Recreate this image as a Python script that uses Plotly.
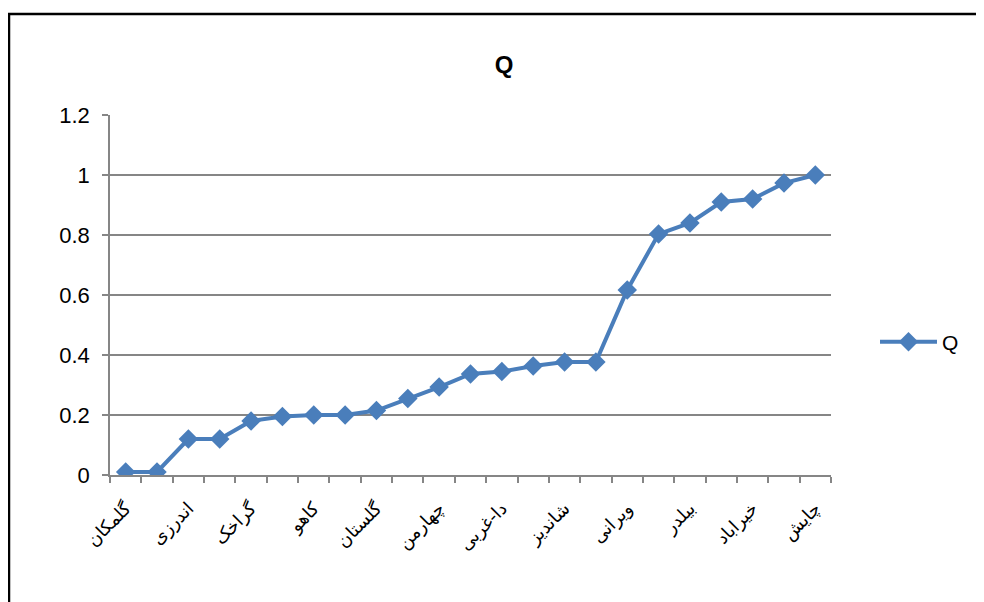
import plotly.graph_objects as go

# Data
q_values = [0.01, 0.01, 0.12, 0.12, 0.18, 0.195, 0.2, 0.2, 0.215, 0.255, 0.293, 0.337,
            0.345, 0.363, 0.377, 0.377, 0.617, 0.803, 0.84, 0.91, 0.92, 0.973, 1.0]
label_positions = [0, 2, 4, 6, 8, 10, 12, 14, 16, 18, 20, 22]
tick_labels = ["گلمکان", "اندرزی", "گراخک", "کاهو", "گلستان", "چهارمن",
               "دا-غربی", "شاندیز", "ویرانی", "بیلدر", "خیراباد", "چایش"]
y_ticks = [0, 0.2, 0.4, 0.6, 0.8, 1, 1.2]
y_tick_text = ["0", "0.2", "0.4", "0.6", "0.8", "1", "1.2"]

x_idx = list(range(len(q_values)))

# page has an 8px body margin; compensate so the plot lands where intended
OFF = 8
W, H = 984 - OFF, 602 - OFF
PL, PR, PT, PB = 110, 831, 115, 475  # plot box in page pixels
L, R, T, B = PL - OFF, 984 - PR, PT - OFF, 602 - PB
pw, ph = PR - PL, PB - PT

def px_x(p):
    return (p - PL) / pw

def px_y(p):
    return (PB - p) / ph

color = "#4A7EBB"
grid = "#868686"

fig = go.Figure()
fig.add_trace(go.Scatter(
    x=x_idx, y=q_values, mode="lines+markers", name="Q",
    line=dict(color=color, width=4),
    marker=dict(symbol="diamond", size=15, color=color),
))

fig.update_layout(
    width=W, height=H,
    margin=dict(l=L, r=R, t=T, b=B),
    paper_bgcolor="white", plot_bgcolor="white",
    title=dict(text="<b>Q</b>", font=dict(family="Liberation Sans", size=24, color="black"),
               x=px_x(504), xref="paper", xanchor="center",
               y=1 - (65 - OFF) / H, yref="container", yanchor="middle"),
    showlegend=True,
    legend=dict(x=px_x(875), y=px_y(342), xanchor="left", yanchor="middle",
                font=dict(family="Liberation Sans", size=21, color="black"),
                bgcolor="rgba(0,0,0,0)", itemwidth=57),
    font=dict(family="Liberation Sans", color="black"),
)

fig.update_xaxes(
    range=[-0.5, 22.5], tickmode="array", tickvals=label_positions, ticktext=tick_labels,
    tickangle=-45, ticks="", showgrid=False, zeroline=False,
    showline=True, linecolor=grid, linewidth=1.5,
    ticklabelstandoff=14,
    tickfont=dict(family="DejaVu Sans", size=18, color="black"),
    minor=dict(tickmode="linear", tick0=-0.5, dtick=1, ticks="outside",
               ticklen=6, tickcolor=grid, tickwidth=1.5, showgrid=False),
)
fig.update_yaxes(
    range=[0, 1.2], tickmode="array", tickvals=y_ticks, ticktext=y_tick_text,
    ticks="outside", ticklen=6, tickcolor=grid, tickwidth=1.5,
    showgrid=True, gridcolor=grid, gridwidth=1.5, zeroline=False,
    showline=True, linecolor=grid, linewidth=1.5,
    ticklabelstandoff=8,
    tickfont=dict(family="Liberation Sans", size=22, color="black"),
)

fig.add_shape(type="rect", xref="paper", yref="paper",
              x0=px_x(9), x1=px_x(995), y0=px_y(615), y1=px_y(14),
              line=dict(color="black", width=2.5), fillcolor="rgba(0,0,0,0)", layer="above")

fig.write_html("out.html")
